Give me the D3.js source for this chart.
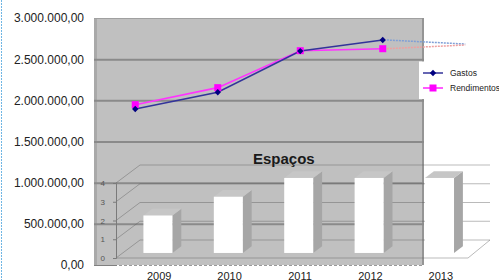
<!DOCTYPE html>
<html>
<head>
<script src="https://d3js.org/d3.v7.min.js"></script>
<style>
  body { margin: 0; background: #fff; }
  svg { display: block; font-family: "Liberation Sans", Arial, sans-serif; }
</style>
</head>
<body>
<script>
// line chart data (Gastos / Rendimentos)
var years = [2009, 2010, 2011, 2012];
var gastos = [1895000, 2098000, 2598000, 2733000];
var rendimentos = [1947000, 2154000, 2603000, 2627000];
// dotted projection towards 2013
var projYear = 2013;
var gastosProj = 2684000;
var rendimentosProj = 2672000;
var yTicks = [0, 500000, 1000000, 1500000, 2000000, 2500000, 3000000];

// 3D column chart data (Espaços)
var espacosYears = ["2009", "2010", "2011", "2012", "2013"];
var espacos = [2, 3, 4, 4, 4];
var espacosTicks = [0, 1, 2, 3, 4];

var svg = d3.select("body").append("svg")
    .attr("width", 499)
    .attr("height", 280);

// dotted frame edge on the left
svg.append("line")
    .attr("x1", 1.5).attr("x2", 1.5)
    .attr("y1", 0).attr("y2", 280)
    .attr("stroke", "#6fb6e4")
    .attr("stroke-dasharray", "2,1");

// ---------- line chart ----------
var pLeft = 94, pRight = 424, pTop = 18, pBottom = 265;

var x = d3.scaleLinear()
    .domain([2008.5, 2012.5])
    .range([pLeft, pRight]);

var y = d3.scaleLinear()
    .domain([0, 3000000])
    .range([pBottom, pTop]);

svg.append("rect")
    .attr("x", pLeft).attr("y", pTop)
    .attr("width", pRight - pLeft).attr("height", pBottom - pTop)
    .attr("fill", "#c0c0c0");

// wall edges
svg.append("rect")
    .attr("x", pLeft).attr("y", pTop)
    .attr("width", 3).attr("height", pBottom - pTop)
    .attr("fill", "#a9a9a9");
svg.append("line")
    .attr("x1", pLeft).attr("x2", pRight)
    .attr("y1", pTop + 0.5).attr("y2", pTop + 0.5)
    .attr("stroke", "#a0a0a0");
svg.append("line")
    .attr("x1", pRight - 1).attr("x2", pRight - 1)
    .attr("y1", pTop).attr("y2", pBottom)
    .attr("stroke", "#959595")
    .attr("stroke-width", 2);

// gridlines
var grid = svg.append("g")
    .attr("transform", "translate(" + pLeft + ",0)")
    .call(d3.axisLeft(y)
        .tickValues([500000, 1000000, 1500000, 2000000, 2500000])
        .tickSize(-(pRight - pLeft))
        .tickFormat(""));
grid.select(".domain").remove();
grid.selectAll("line")
    .attr("stroke", "#8a8a8a")
    .attr("stroke-width", 2);

// bottom edge
svg.append("line")
    .attr("x1", pLeft).attr("x2", pRight)
    .attr("y1", pBottom + 0.5).attr("y2", pBottom + 0.5)
    .attr("stroke", "#9a9a9a")
    .attr("stroke-dasharray", "3,2");
svg.append("line")
    .attr("x1", pLeft).attr("x2", 117)
    .attr("y1", pBottom + 0.5).attr("y2", pBottom + 0.5)
    .attr("stroke", "#808080");

// y axis labels
var locale = d3.formatLocale({decimal: ",", thousands: ".", grouping: [3], currency: ["", ""]});
var fmt = locale.format(",.2f");
var yAxis = svg.append("g")
    .attr("transform", "translate(" + pLeft + ",0)")
    .call(d3.axisLeft(y).tickValues(yTicks).tickSize(0).tickPadding(10).tickFormat(fmt));
yAxis.select(".domain").remove();
yAxis.selectAll("text")
    .attr("font-size", "12px")
    .attr("font-family", "Liberation Sans, Arial, sans-serif")
    .attr("fill", "#222");

// legend box
svg.append("rect")
    .attr("x", 419).attr("y", 61.5)
    .attr("width", 80).attr("height", 37.5)
    .attr("fill", "#fff");

var gData = years.map(function(d, i) { return {year: d, v: gastos[i]}; });
var rData = years.map(function(d, i) { return {year: d, v: rendimentos[i]}; });

var line = d3.line()
    .x(function(d) { return x(d.year); })
    .y(function(d) { return y(d.v); });

// projections
svg.append("path")
    .datum([{year: 2012.05, v: gastos[3]}, {year: projYear, v: gastosProj}])
    .attr("d", line)
    .attr("fill", "none")
    .attr("stroke", "#7f9fd6")
    .attr("stroke-width", 1.5)
    .attr("stroke-dasharray", "2,1");
svg.append("path")
    .datum([{year: 2012.05, v: rendimentos[3]}, {year: projYear, v: rendimentosProj}])
    .attr("d", line)
    .attr("fill", "none")
    .attr("stroke", "#eea0a0")
    .attr("stroke-width", 1.5)
    .attr("stroke-dasharray", "2,1");

svg.append("path")
    .datum(rData)
    .attr("d", line)
    .attr("fill", "none")
    .attr("stroke", "#ff33ff")
    .attr("stroke-width", 1.6);
svg.append("path")
    .datum(gData)
    .attr("d", line)
    .attr("fill", "none")
    .attr("stroke", "#33339a")
    .attr("stroke-width", 1.5);

svg.selectAll(".rmark")
    .data(rData)
    .enter()
    .append("rect")
        .attr("x", function(d) { return x(d.year) - 3.5; })
        .attr("y", function(d) { return y(d.v) - 3.5; })
        .attr("width", 7).attr("height", 7)
        .attr("fill", "#ff00ff");

// diamond = square rotated 45deg
var diamond = d3.symbol().type(d3.symbolSquare).size(20);
svg.selectAll(".gmark")
    .data(gData)
    .enter()
    .append("path")
        .attr("d", diamond)
        .attr("transform", function(d) { return "translate(" + x(d.year) + "," + y(d.v) + ") rotate(45)"; })
        .attr("fill", "#000080");

// legend
svg.append("line")
    .attr("x1", 423).attr("x2", 443).attr("y1", 73).attr("y2", 73)
    .attr("stroke", "#33339a").attr("stroke-width", 1.5);
svg.append("path")
    .attr("d", diamond)
    .attr("transform", "translate(433,73) rotate(45)")
    .attr("fill", "#000080");
svg.append("text")
    .attr("x", 450).attr("y", 73)
    .attr("dy", "0.35em")
    .attr("font-size", "8.5px")
    .attr("fill", "#222")
    .text("Gastos");
svg.append("line")
    .attr("x1", 423).attr("x2", 443).attr("y1", 88).attr("y2", 88)
    .attr("stroke", "#ff33ff").attr("stroke-width", 1.6);
svg.append("rect")
    .attr("x", 429.5).attr("y", 84.5).attr("width", 7).attr("height", 7)
    .attr("fill", "#ff00ff");
svg.append("text")
    .attr("x", 450).attr("y", 88)
    .attr("dy", "0.35em")
    .attr("font-size", "8.5px")
    .attr("fill", "#222")
    .text("Rendimentos");

// ---------- 3D column chart (Espaços) ----------
var dx = 24, dy = 18;

var bx = d3.scaleBand()
    .domain(espacosYears)
    .range([116, 468]);

var by = d3.scaleLinear()
    .domain([0, 4])
    .range([258, 183]);

var wall = svg.append("g");
var wallStroke = "rgba(90,90,90,0.42)";

espacosTicks.forEach(function(t) {
    wall.append("polyline")
        .attr("points", [[116, by(t)], [116 + dx, by(t) - dy], [468 + dx - 2, by(t) - dy]].join(" "))
        .attr("fill", "none")
        .attr("stroke", wallStroke);
});

// floor
wall.append("polyline")
    .attr("points", [[116, by(0)], [468, by(0)], [468 + dx - 2, by(0) - dy]].join(" "))
    .attr("fill", "none")
    .attr("stroke", wallStroke);

// front axis
var bAxis = svg.append("g")
    .attr("transform", "translate(116,0)")
    .call(d3.axisLeft(by).tickValues(espacosTicks).tickSize(3).tickPadding(8).tickFormat(d3.format("d")));
bAxis.select(".domain").attr("stroke", "#7a7a7a");
bAxis.selectAll("line").attr("stroke", "#7a7a7a");
bAxis.selectAll("text")
    .attr("font-size", "8px")
    .attr("font-family", "Liberation Sans, Arial, sans-serif")
    .attr("fill", "#555");

// bars
var barW = 29;
var fx = dx * 0.28, fy = dy * 0.28;
var sx = dx * 0.37, sy = dy * 0.37;

var bars = svg.selectAll(".bar")
    .data(espacosYears.map(function(d, i) { return {year: d, v: espacos[i]}; }))
    .enter()
    .append("g");

function bx0(d) { return bx(d.year) + (bx.bandwidth() - barW) / 2 + fx; }
function bTop(d) { return by(d.v) - fy; }
var bBottom = by(0) - fy;

bars.append("polygon")
    .attr("points", function(d) {
        var x0 = bx0(d), t = bTop(d);
        return [[x0 + barW, t], [x0 + barW + sx, t - sy], [x0 + barW + sx, bBottom - sy], [x0 + barW, bBottom]].join(" ");
    })
    .attr("fill", "#a6a6a6");

bars.append("polygon")
    .attr("points", function(d) {
        var x0 = bx0(d), t = bTop(d);
        return [[x0, t], [x0 + sx, t - sy], [x0 + barW + sx, t - sy], [x0 + barW, t]].join(" ");
    })
    .attr("fill", "#c6c6c6");

bars.append("rect")
    .attr("x", bx0)
    .attr("y", bTop)
    .attr("width", barW)
    .attr("height", function(d) { return bBottom - bTop(d); })
    .attr("fill", "#ffffff");

// category labels
svg.selectAll(".yearLabel")
    .data(espacosYears)
    .enter()
    .append("text")
        .attr("x", function(d) { return bx(d) + bx.bandwidth() / 2 + 8; })
        .attr("y", 280)
        .attr("text-anchor", "middle")
        .attr("font-size", "11px")
        .attr("fill", "#222")
        .text(function(d) { return d; });

// title
svg.append("text")
    .attr("x", 253)
    .attr("y", 164)
    .attr("font-size", "15px")
    .attr("font-weight", "bold")
    .attr("fill", "#1a1a1a")
    .text("Espaços");
</script>
</body>
</html>
